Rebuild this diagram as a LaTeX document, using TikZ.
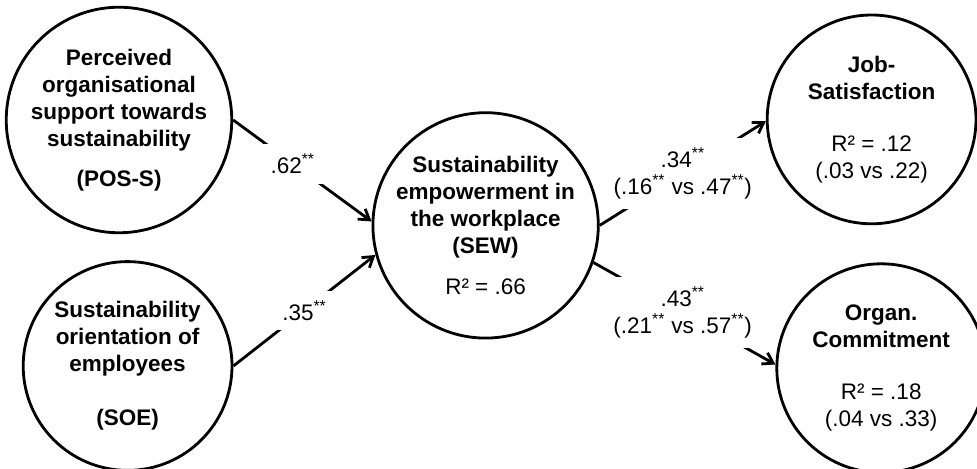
\documentclass[tikz,border=0pt]{standalone}
\usepackage{fontspec}
\setmainfont{Liberation Sans}
\usetikzlibrary{arrows.meta}

\newcommand{\pstar}{\textsuperscript{**}}

\begin{document}
\begin{tikzpicture}
    \tikzstyle{construct} = [circle, draw=black, line width=2pt, minimum size=5.22cm, inner sep=0pt, align=center, font=\fontsize{16}{19.2}\selectfont\bfseries];
    \tikzstyle{coef} = [fill=white, inner sep=0.25cm, align=center, font=\fontsize{16}{19.2}\selectfont];
    \tikzstyle{parrow} = [black, line width=2pt, -{Straight Barb[length=2.5mm, width=3.2mm]}];

    \useasboundingbox (0,0) rectangle (24.425,11.725);

    \node[construct] (POS) at (2.975,8.725) {Perceived\\organisational\\support towards\\sustainability\\[9pt](POS-S)};
    \node[construct] (SOE) at (3.19,2.575) {Sustainability\\orientation of\\employees\\[19pt](SOE)};
    \node[construct] (SEW) at (12.14,6.09) {Sustainability\\empowerment in\\the workplace\\(SEW)\\[10pt]\mdseries R² = .66};
    \node[construct] (JOB) at (21.79,8.74) {Job-\\Satisfaction\\[18pt]\mdseries R² = .12\\\mdseries(.03 vs .22)};
    \node[construct] (ORG) at (22.03,2.52) {Organ.\\Commitment\\[18pt]\mdseries R² = .18\\\mdseries(.04 vs .33)};

    \foreach \from/\to/\where/\coef in {POS.east/SEW.178/0.43/{.62\pstar},
                                      SOE.east/SEW.195/0.5/{.35\pstar},
                                      SEW.east/JOB.181/0.5/{.34\pstar\\(.16\pstar{} vs .47\pstar)},
                                      SEW.-19/ORG.178/0.49/{.43\pstar\\(.21\pstar{} vs .57\pstar)}}
        \draw[parrow] (\from) -- node[coef, pos=\where] {\coef} (\to);

\end{tikzpicture}
\end{document}
